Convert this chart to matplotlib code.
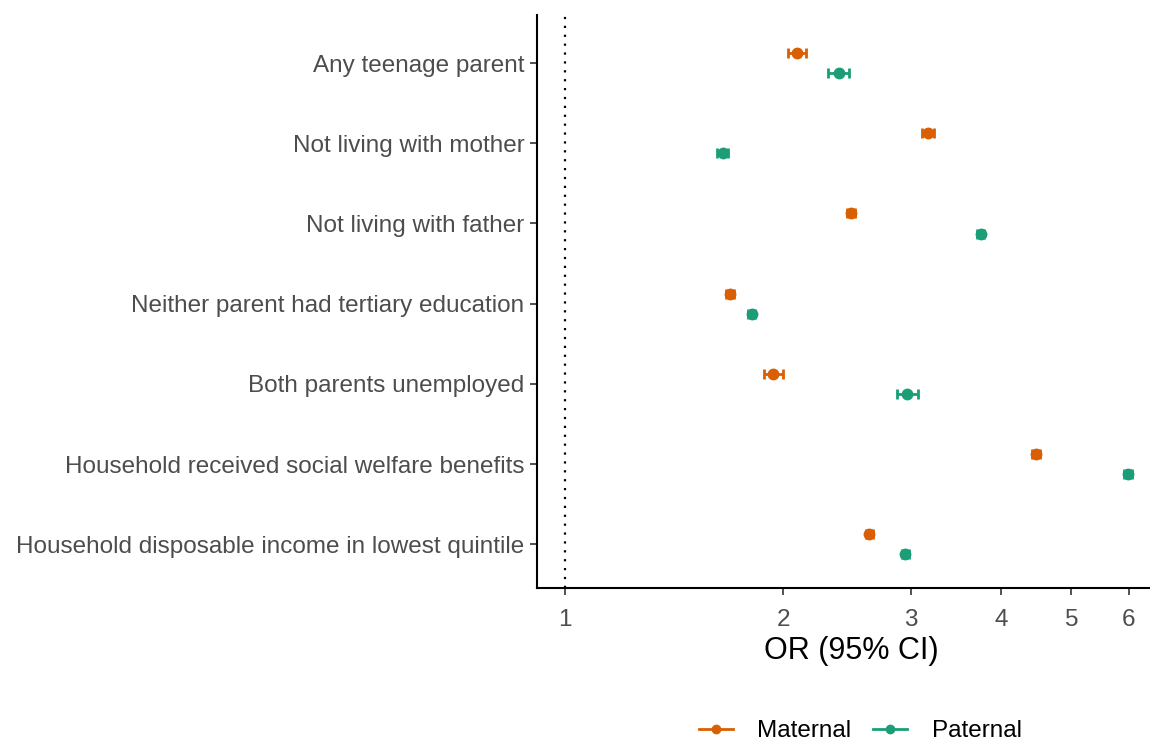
import matplotlib
matplotlib.use("Agg")
import matplotlib.pyplot as plt
from matplotlib.lines import Line2D
from matplotlib.ticker import FixedLocator, NullLocator

plt.rcParams["font.family"] = ["Liberation Sans", "DejaVu Sans"]

categories = [
    "Any teenage parent",
    "Not living with mother",
    "Not living with father",
    "Neither parent had tertiary education",
    "Both parents unemployed",
    "Household received social welfare benefits",
    "Household disposable income in lowest quintile",
]

maternal_or = [2.09, 3.17, 2.48, 1.69, 1.94, 4.47, 2.63]
maternal_lo = [2.03, 3.11, 2.45, 1.67, 1.88, 4.41, 2.60]
maternal_hi = [2.15, 3.23, 2.51, 1.71, 2.00, 4.53, 2.66]

paternal_or = [2.39, 1.65, 3.75, 1.81, 2.97, 5.99, 2.95]
paternal_lo = [2.31, 1.62, 3.71, 1.79, 2.87, 5.91, 2.92]
paternal_hi = [2.47, 1.68, 3.79, 1.83, 3.07, 6.07, 2.98]

x_ticks = [1, 2, 3, 4, 5, 6]

MAT_COLOR = "#D95F02"
PAT_COLOR = "#1B9E77"
DODGE = 0.125


def draw_series(ax, est, lo, hi, offset, color):
    ys = [i + offset for i in range(len(est))]
    err = [[e - l for e, l in zip(est, lo)], [h - e for e, h in zip(est, hi)]]
    ax.errorbar(est, ys, xerr=err, fmt="o", color=color, ecolor=color,
                markersize=7.5, elinewidth=2, capsize=3.3, capthick=2, zorder=3)


fig = plt.figure(figsize=(11.5, 7.44), dpi=100)
ax = fig.add_axes([0.467, 0.21, 0.533, 0.77])

ax.axvline(1, color="black", linestyle=(0, (1, 3)), linewidth=1.6, zorder=1)

draw_series(ax, maternal_or, maternal_lo, maternal_hi, -DODGE, MAT_COLOR)
draw_series(ax, paternal_or, paternal_lo, paternal_hi, DODGE, PAT_COLOR)

ax.set_xscale("log")
ax.set_xlim(0.915, 6.42)
ax.xaxis.set_major_locator(FixedLocator(x_ticks))
ax.xaxis.set_minor_locator(NullLocator())
ax.set_xticklabels([str(t) for t in x_ticks])

ax.set_yticks(range(len(categories)))
ax.set_yticklabels(categories)
ax.set_ylim(6.54, -0.6)

ax.tick_params(axis="both", labelsize=17.5, labelcolor="#4D4D4D", color="#333333",
               length=5, width=1.2)
ax.tick_params(axis="y", pad=4)
ax.tick_params(axis="x", pad=10)

for side in ["top", "right"]:
    ax.spines[side].set_visible(False)
for side in ["left", "bottom"]:
    ax.spines[side].set_linewidth(1.5)
    ax.spines[side].set_color("black")

ax.set_xlabel("OR (95% CI)", fontsize=22, labelpad=5)
ax.xaxis.set_label_coords(0.512, -0.085)

handles = [
    Line2D([0], [0], color=MAT_COLOR, marker="o", markersize=6, linewidth=2),
    Line2D([0], [0], color=PAT_COLOR, marker="o", markersize=6, linewidth=2),
]
fig.legend(handles, ["Maternal", "Paternal"], loc="lower center",
           bbox_to_anchor=(0.748, -0.027), ncol=2, frameon=False, fontsize=17.5,
           handlelength=1.4, columnspacing=0.9, handletextpad=1.0)

fig.savefig("out.png", dpi=100)
